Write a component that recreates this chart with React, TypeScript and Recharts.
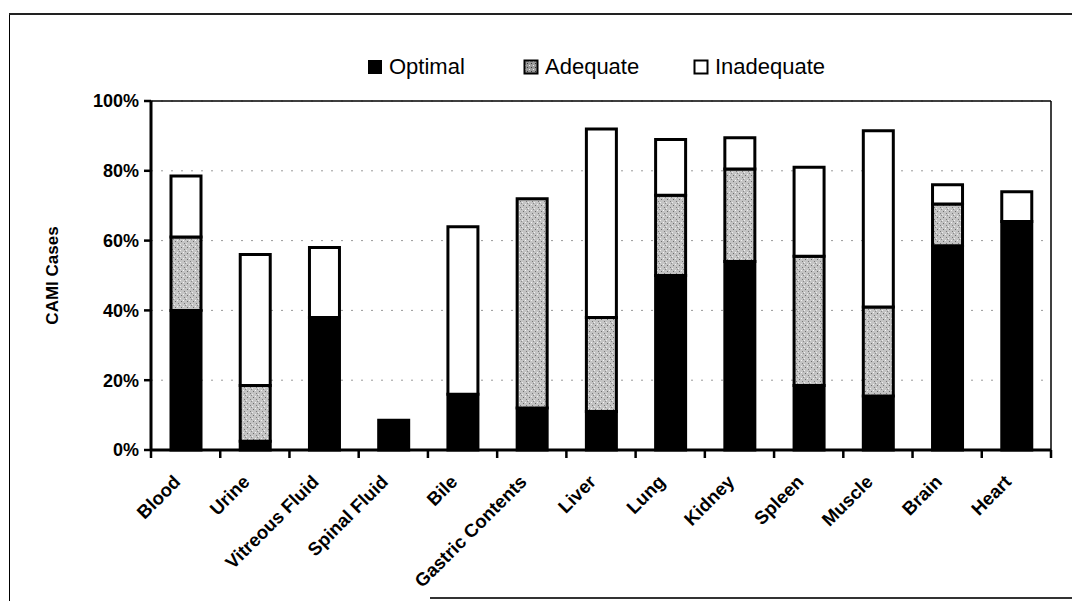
import React from 'react';
import { BarChart, Bar, XAxis, YAxis, CartesianGrid, Legend, Label } from 'recharts';

const categories = ['Blood', 'Urine', 'Vitreous Fluid', 'Spinal Fluid', 'Bile', 'Gastric Contents', 'Liver', 'Lung', 'Kidney', 'Spleen', 'Muscle', 'Brain', 'Heart'];
const optimal = [40, 2.5, 38, 8.5, 16, 12, 11, 50, 54, 18.5, 15.5, 58.5, 65.5];
const adequate = [21, 16, 0, 0, 0, 60, 27, 23, 26.5, 37, 25.5, 12, 0];
const inadequate = [17.5, 37.5, 20, 0, 48, 0, 54, 16, 9, 25.5, 50.5, 5.5, 8.5];
const yTicks = [0, 20, 40, 60, 80, 100];
const seriesNames = ['Optimal', 'Adequate', 'Inadequate'];

const data = categories.map((c, i) => ({
  name: c,
  Optimal: optimal[i],
  Adequate: adequate[i],
  Inadequate: inadequate[i],
}));

const W = 1072;
const H = 601;
const PLOT_LEFT = 151;
const PLOT_RIGHT = 1051;
const PLOT_TOP = 101;
const PLOT_BOTTOM = 450;
const BAND = (PLOT_RIGHT - PLOT_LEFT) / categories.length;
const FONT = '"Liberation Sans", Arial, Helvetica, sans-serif';

const fills: Record<string, string> = {
  Optimal: '#000000',
  Adequate: 'url(#stipple)',
  Inadequate: '#ffffff',
};

const XTick = (props: any) => {
  const { x, y, payload, index } = props;
  const lx = x - 4;
  const ly = y + 33;
  return (
    <g>
      <line x1={x + BAND / 2} y1={y} x2={x + BAND / 2} y2={y + 8} stroke="#000" strokeWidth={2.5} />
      {index === 0 && <line x1={x - BAND / 2} y1={y} x2={x - BAND / 2} y2={y + 8} stroke="#000" strokeWidth={2.5} />}
      <text
        x={lx}
        y={ly}
        transform={`rotate(-45, ${lx}, ${ly})`}
        textAnchor="end"
        fontFamily={FONT}
        fontWeight="bold"
        fontSize={18.5}
        fill="#000"
      >
        {payload.value}
      </text>
    </g>
  );
};

const LegendSwatch = ({ name }: { name: string }) => {
  if (name === 'Optimal') return <rect x={1} y={1} width={14} height={14} fill="#000" />;
  if (name === 'Adequate') return <rect x={1.5} y={1.5} width={13} height={13} fill="url(#stippleLegend)" stroke="#000" strokeWidth={2} />;
  return <rect x={1.5} y={1.5} width={13} height={13} fill="#fff" stroke="#000" strokeWidth={2} />;
};

const legendLefts = [367, 523, 693];

const renderLegend = () => (
  <div style={{ position: 'relative', width: W, height: 30 }}>
    {seriesNames.map((n, i) => (
      <div
        key={n}
        style={{
          position: 'absolute',
          left: legendLefts[i],
          top: 0,
          display: 'flex',
          alignItems: 'center',
          fontFamily: FONT,
          fontSize: 22,
          lineHeight: '22px',
          color: '#000',
          whiteSpace: 'nowrap',
        }}
      >
        <svg width={16} height={16} style={{ marginRight: 6 }}>
          <defs>
            <pattern id="stippleLegend" width="4" height="4" patternUnits="userSpaceOnUse">
              <rect width="4" height="4" fill="#9a9a9a" />
              <rect x="0" y="0" width="1" height="1" fill="#333" />
              <rect x="2" y="2" width="1" height="1" fill="#eee" />
            </pattern>
          </defs>
          <LegendSwatch name={n} />
        </svg>
        <span>{n}</span>
      </div>
    ))}
  </div>
);

export default function App() {
  return (
    <div style={{ position: 'absolute', left: 0, top: 0, width: W, height: H, background: '#fff', overflow: 'hidden' }}>
      <div style={{ position: 'absolute', left: 9, top: 14, width: 1, height: H, background: '#000' }} />
      <div style={{ position: 'absolute', left: 9, top: 13, width: W, height: 1.5, background: '#222' }} />
      <div style={{ position: 'absolute', left: 430, top: 597, width: W, height: 1.5, background: '#333' }} />
      <BarChart
        width={W}
        height={H}
        data={data}
        margin={{ top: PLOT_TOP - 1, right: W - PLOT_RIGHT - 1, bottom: H - PLOT_BOTTOM - 1, left: 0 }}
        barSize={30}
      >
        <defs>
          <pattern id="stipple" width="6" height="6" patternUnits="userSpaceOnUse">
            <rect width="6" height="6" fill="#c4c4c4" />
            <rect x="1" y="1" width="1" height="1" fill="#6a6a6a" />
            <rect x="4" y="3" width="1" height="1" fill="#7a7a7a" />
            <rect x="3" y="0" width="1" height="1" fill="#f2f2f2" />
            <rect x="0" y="4" width="1" height="1" fill="#ededed" />
            <rect x="5" y="5" width="1" height="1" fill="#8a8a8a" />
          </pattern>
        </defs>
        <CartesianGrid vertical={false} stroke="#9a9a9a" strokeDasharray="2 8" strokeWidth={1} />
        <XAxis
          dataKey="name"
          interval={0}
          height={1}
          tickSize={0}
          tickMargin={0}
          tickLine={false}
          axisLine={{ stroke: '#000', strokeWidth: 3 }}
          tick={<XTick />}
        />
        <XAxis xAxisId="top" dataKey="name" orientation="top" height={1} tick={false} tickLine={false} axisLine={{ stroke: '#000', strokeWidth: 1.5 }} />
        <YAxis
          domain={[0, 100]}
          ticks={yTicks}
          width={PLOT_LEFT}
          tickFormatter={(v: number) => `${v}%`}
          tickSize={7}
          tickMargin={5}
          tickLine={{ stroke: '#000', strokeWidth: 2.5 }}
          axisLine={{ stroke: '#000', strokeWidth: 3 }}
          tick={{ fill: '#000', fontFamily: FONT, fontWeight: 'bold', fontSize: 18 }}
        >
          <Label
            value="CAMI Cases"
            angle={-90}
            position="insideLeft"
            offset={52}
            style={{ textAnchor: 'middle', fontFamily: FONT, fontWeight: 'bold', fontSize: 17, fill: '#000' }}
          />
        </YAxis>
        <YAxis yAxisId="right" orientation="right" width={1} domain={[0, 100]} tick={false} tickLine={false} axisLine={{ stroke: '#000', strokeWidth: 1.5 }} />
        <Legend
          layout="horizontal"
          verticalAlign="middle"
          align="center"
          content={renderLegend}
          wrapperStyle={{ position: 'absolute', top: 56, left: 0, width: W }}
        />
        {seriesNames.map((n) => (
          <Bar
            key={n}
            dataKey={n}
            stackId="a"
            fill={fills[n]}
            stroke="#000"
            strokeWidth={3}
            isAnimationActive={false}
          />
        ))}
      </BarChart>
    </div>
  );
}
